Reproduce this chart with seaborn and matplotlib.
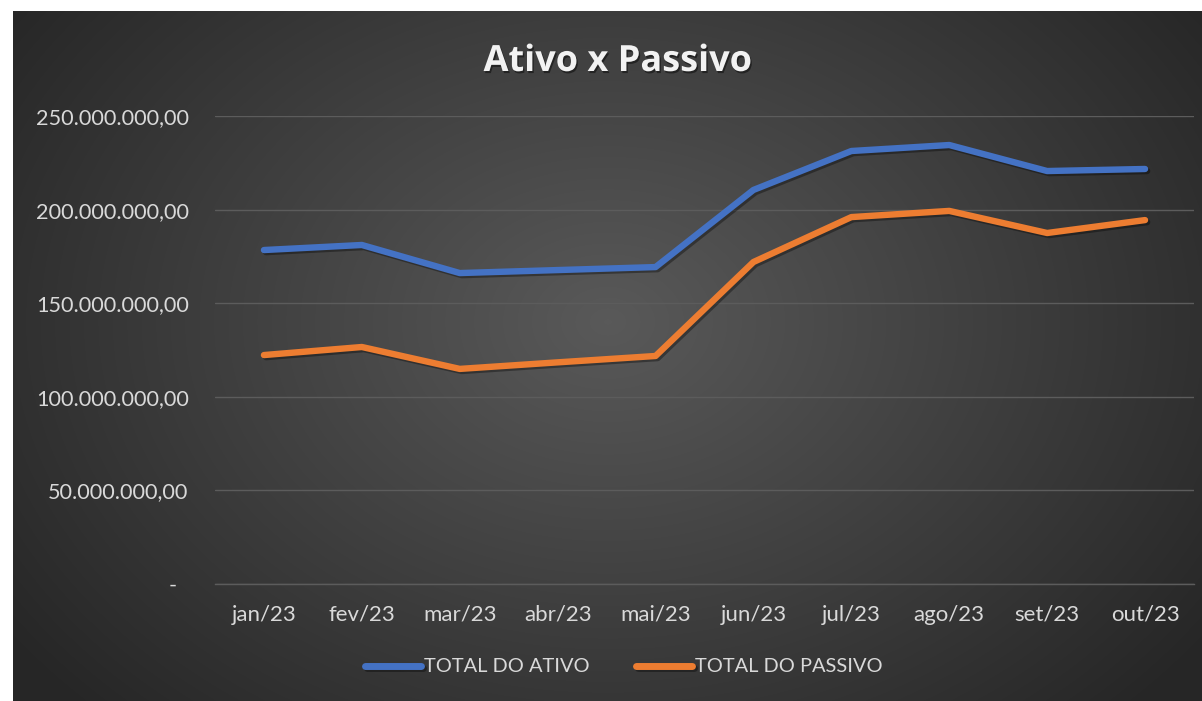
import numpy as np
import pandas as pd
import matplotlib
matplotlib.use("Agg")
import matplotlib.pyplot as plt
import matplotlib.patheffects as pe
from matplotlib.ticker import FuncFormatter, FixedLocator
import seaborn as sns

meses = ["jan/23", "fev/23", "mar/23", "abr/23", "mai/23",
         "jun/23", "jul/23", "ago/23", "set/23", "out/23"]
total_ativo = [178.4e6, 181.1e6, 166.1e6, 167.7e6, 169.3e6,
               210.5e6, 231.3e6, 234.5e6, 220.6e6, 221.7e6]
total_passivo = [122.3e6, 126.6e6, 114.9e6, 118.4e6, 121.8e6,
                 172.0e6, 196.0e6, 199.3e6, 187.5e6, 194.4e6]
series = ["TOTAL DO ATIVO", "TOTAL DO PASSIVO"]
cores = ["#4472C4", "#ED7D31"]
marcas_y = [0, 50e6, 100e6, 150e6, 200e6, 250e6]

df = pd.DataFrame({
    "mes": meses * 2,
    "valor": total_ativo + total_passivo,
    "serie": [series[0]] * len(meses) + [series[1]] * len(meses),
})


def formato_br(valor, pos):
    if valor == 0:
        return "-  "
    texto = f"{valor:,.2f}"
    return texto.replace(",", "X").replace(".", ",").replace("X", ".")


sns.set_style("dark")
plt.rcParams["font.family"] = ["Lato", "DejaVu Sans"]
cor_texto = "#d9d9d9"
cor_grade = "#5c5c5c"

fig = plt.figure(figsize=(12.02, 7.01), dpi=100)
fig.patch.set_facecolor("white")

# fundo com gradiente radial (estilo Excel)
fundo = fig.add_axes([13 / 1202, 0, 1 - 13 / 1202, 1 - 11 / 701])
h, w = 690, 1189
yy, xx = np.mgrid[0:h, 0:w]
d = np.sqrt(((xx - w * 0.5) / (w * 0.62)) ** 2 + ((yy - h * 0.45) / (h * 0.8)) ** 2)
cinza = 0.35 - 0.2 * np.clip(d, 0, 1)
fundo.imshow(np.dstack([cinza] * 3), aspect="auto", interpolation="bilinear")
fundo.axis("off")

ax = fig.add_axes([215 / 1202, 1 - 584 / 701, (1194 - 215) / 1202, (584 - 116) / 701])
ax.patch.set_visible(False)

sns.lineplot(data=df, x="mes", y="valor", hue="serie", palette=cores,
             linewidth=4.6, sort=False, ax=ax,
             solid_capstyle="round", solid_joinstyle="round")

for linha in ax.get_lines():
    linha.set_clip_on(False)
    linha.set_path_effects([pe.SimpleLineShadow(offset=(1.5, -1.5), shadow_color="black", alpha=0.35),
                            pe.Normal()])

ax.set_xlim(-0.5, len(meses) - 0.5)
ax.set_ylim(0, 250e6)
ax.yaxis.set_major_locator(FixedLocator(marcas_y))
ax.yaxis.set_major_formatter(FuncFormatter(formato_br))
ax.xaxis.set_minor_locator(FixedLocator(np.arange(-0.5, len(meses), 1)))

ax.grid(axis="y", color=cor_grade, linewidth=1)
ax.grid(axis="x", visible=False)
for lado in ["top", "right", "left"]:
    ax.spines[lado].set_visible(False)
ax.spines["bottom"].set_color(cor_grade)
ax.spines["bottom"].set_linewidth(1)

ax.tick_params(axis="y", length=0, pad=19, labelsize=15.6, labelcolor=cor_texto)
ax.tick_params(axis="x", which="major", length=0, pad=15, labelsize=16, labelcolor=cor_texto)
ax.tick_params(axis="x", which="minor", length=7, width=1, color=cor_grade, direction="out")
ax.set_xlabel("")
ax.set_ylabel("")

titulo = fig.text(0.514, 1 - 62 / 701, "Ativo x Passivo", ha="center", va="center",
                  fontsize=26, fontweight="bold", color="#f2f2f2", family=["Open Sans", "DejaVu Sans"])
titulo.set_path_effects([pe.withSimplePatchShadow(offset=(1, -1.5), shadow_rgbFace="black", alpha=0.45)])

handles, labels = ax.get_legend_handles_labels()
leg = ax.legend(handles, labels, loc="center", bbox_to_anchor=(0.519, 1 - 667 / 701),
                bbox_transform=fig.transFigure, ncol=2, frameon=False, fontsize=14.4,
                handlelength=2.8, handletextpad=0.15, columnspacing=2.3)
for t in leg.get_texts():
    t.set_color(cor_texto)
for l in leg.get_lines():
    l.set_linewidth(5)
    l.set_solid_capstyle("round")

fig.savefig("out.png", dpi=100, facecolor=fig.get_facecolor())
